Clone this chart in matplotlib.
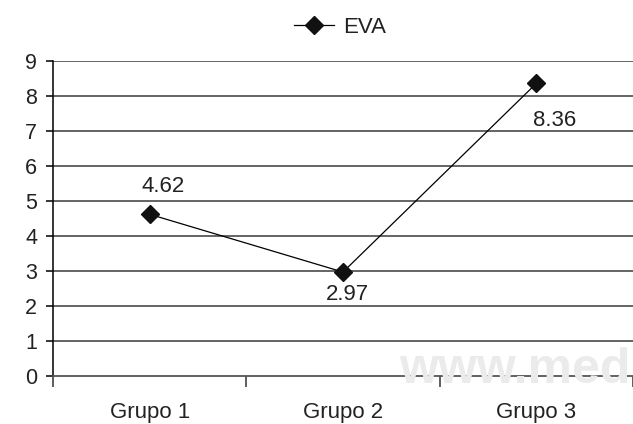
import matplotlib
matplotlib.use("Agg")
import matplotlib.pyplot as plt

categories = ["Grupo 1", "Grupo 2", "Grupo 3"]
eva_values = [4.62, 2.97, 8.36]
y_ticks = [0, 1, 2, 3, 4, 5, 6, 7, 8, 9]
series_name = "EVA"
value_labels = ["4.62", "2.97", "8.36"]

label_offsets = [(9.5, 20), (3.5, -16), (13, -27)]  # points

plt.rcParams['font.family'] = ['Liberation Sans', 'DejaVu Sans']

fig = plt.figure(figsize=(6.33, 4.24), dpi=100)
ax = fig.add_axes([53/633, 48/424, 580/633, 315/424])

x = list(range(len(categories)))

# watermark
fig.text(631/633, 41/424, "www.med", fontsize=36, fontweight='bold',
         color='#ebebeb', ha='right', va='baseline', zorder=0)

ax.set_facecolor('none')
ax.set_xlim(-0.5, len(categories) - 0.5)
ax.set_ylim(0, 9)

for yv in y_ticks[1:]:
    ax.axhline(yv, color='#3a3a3a', lw=1.1, zorder=1)

line, = ax.plot(x, eva_values, color='black', lw=0.9, marker='D',
                markersize=9, markerfacecolor='#111111',
                markeredgecolor='#111111', label=series_name, zorder=3,
                clip_on=False)

for xi, yi, txt, off in zip(x, eva_values, value_labels, label_offsets):
    ax.annotate(txt, (xi, yi), xytext=off, textcoords='offset points',
                ha='center', va='center', fontsize=16, color='#222222')

ax.set_yticks(y_ticks)
ax.set_yticklabels([str(v) for v in y_ticks], fontsize=15.5, color='#222222')
ax.tick_params(axis='y', length=5, width=1.1, pad=6.5, color='black')

ax.set_xticks(x)
ax.set_xticklabels(categories, fontsize=16, color='#222222')
ax.set_xticks([i - 0.5 for i in range(len(categories) + 1)], minor=True)
ax.tick_params(axis='x', which='major', length=0, pad=19)
ax.tick_params(axis='x', which='minor', length=8, width=1.1, color='#333333')

for s in ['top', 'right']:
    ax.spines[s].set_visible(False)
ax.spines['left'].set_color('black')
ax.spines['left'].set_linewidth(1.1)
ax.spines['bottom'].set_color('#555555')
ax.spines['bottom'].set_linewidth(1.3)

fig.legend(handles=[line], labels=[series_name], loc='center',
           bbox_to_anchor=(0.537, 0.936), frameon=False, fontsize=16,
           handlelength=1.8, handletextpad=0.4, labelcolor='#222222')

fig.savefig("out.png", dpi=100)
